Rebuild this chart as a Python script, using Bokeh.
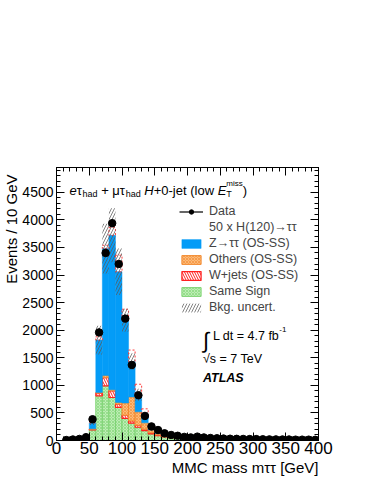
import numpy as np
from bokeh.plotting import figure
from bokeh.models import (Range1d, LinearAxis, FixedTicker, Label, Legend, LegendItem, Title)
from bokeh.embed import file_html
from bokeh.resources import INLINE

# ---------------- data ----------------
bin_lo = list(range(10, 400, 10))
data = [8, 18, 28, 60, 385, 1960, 3400, 3940, 3200, 2210, 1370, 820, 445, 255, 190,
        130, 100, 85, 65, 55, 70, 55, 45, 40, 35, 32, 30, 28, 26, 25, 22, 20, 20, 18, 18,
        15, 15, 15, 12]
same_sign = [4, 8, 12, 30, 190, 810, 990, 780, 600, 400, 315, 240, 180, 120, 90,
             65, 50, 40, 32, 27, 24, 21, 18, 16, 14, 13, 12, 11, 10, 9, 9, 8, 8, 7, 7,
             6, 6, 5, 5]
wjets = [0, 1, 2, 4, 15, 50, 150, 120, 60, 60, 40, 35, 25, 20, 12,
         10, 8, 6, 5, 4, 4, 3, 3, 3, 3, 2, 2, 2, 2, 2, 1, 2, 1, 1, 1, 1, 1, 1, 1]
others = [1, 1, 2, 4, 7, 10, 40, 20, 30, 220, 435, 245, 115, 50, 23,
          17, 14, 11, 9, 8, 6, 6, 5, 4, 4, 4, 3, 3, 3, 3, 3, 2, 2, 2, 2, 2, 1, 2, 1]
ztautau = [3, 5, 10, 20, 108, 950, 2300, 2800, 2370, 1500, 640, 310, 144, 45, 20,
           18, 13, 11, 9, 8, 7, 6, 5, 5, 4, 4, 4, 3, 3, 3, 3, 3, 3, 3, 2, 2, 2, 2, 2]
signal50 = [0, 0, 0, 0, 20, 60, 60, 140, 300, 200, 210, 190, 110, 50, 20,
            10, 5, 3, 2, 0, 0, 0, 0, 0, 0, 0, 0, 0, 0, 0, 0, 0, 0, 0, 0, 0, 0, 0, 0]
bkg_unc = [2, 3, 4, 8, 40, 260, 450, 490, 420, 210, 150, 110, 50, 30, 15,
           12, 10, 8, 7, 6, 5, 5, 4, 4, 4, 3, 3, 3, 3, 3, 2, 2, 2, 2, 2, 2, 2, 2, 2]
bin_width = 10

x_ticks = list(range(0, 401, 50))
x_minor = list(range(0, 401, 10))
y_ticks = list(range(0, 4501, 500))
y_minor = list(range(0, 4901, 100))

legend_labels = ["Data", "50 x H(120)\u2192\u03c4\u03c4", "Z\u2192\u03c4\u03c4 (OS-SS)",
                 "Others (OS-SS)", "W+jets (OS-SS)", "Same Sign", "Bkg. uncert."]
x_title = "MMC mass m\u03c4\u03c4 [GeV]"
y_title = "Events / 10 GeV"

# ---------------- layout ----------------
W, H = 372, 482
FL, FT = 55, 167
FR, FB = W - 318, H - 440
XMAX, YMAX = 400, 4950
FW, FH = W - FL - FR, H - FT - FB
FONT = "Liberation Sans"

def dx(px):  # page px -> data x
    return (px - FL) * XMAX / FW

def dy(py):  # page py -> data y
    return (H - FB - py) * YMAX / FH

p = figure(width=W, height=H, x_range=Range1d(0, XMAX), y_range=Range1d(0, YMAX),
           output_backend="svg", toolbar_location=None,
           min_border_left=FL, min_border_right=FR, min_border_top=FT, min_border_bottom=FB)
p.xgrid.visible = False
p.ygrid.visible = False
p.outline_line_color = "black"
p.background_fill_color = "white"
p.border_fill_color = "white"

def style_axis(ax, ticks, minor, labels=True, size="14px", tick_len=8):
    ax.ticker = FixedTicker(ticks=ticks, minor_ticks=minor)
    ax.major_tick_in = tick_len
    ax.major_tick_out = 0
    ax.minor_tick_in = tick_len // 2
    ax.minor_tick_out = 0
    ax.axis_line_color = "black"
    ax.major_tick_line_color = "black"
    ax.minor_tick_line_color = "black"
    ax.major_label_text_font = FONT
    ax.major_label_text_color = "black"
    if labels:
        ax.major_label_text_font_size = size
    else:
        ax.major_label_text_font_size = "0px"
        ax.major_label_text_alpha = 0

xa = p.xaxis[0]
style_axis(xa, x_ticks, x_minor, size="17px", tick_len=8)
xa.major_label_standoff = 1

ya = p.yaxis[0]
style_axis(ya, y_ticks, y_minor, size="14px", tick_len=8)
ya.major_label_standoff = 3

top_ax = LinearAxis()
style_axis(top_ax, x_ticks, x_minor, labels=False)
p.add_layout(top_ax, "above")
right_ax = LinearAxis()
style_axis(right_ax, y_ticks, y_minor, labels=False)
p.add_layout(right_ax, "right")

p.add_layout(Title(text=x_title, align="right", text_font=FONT, text_font_size="15px",
                   text_font_style="normal", text_color="black", standoff=0), "below")
p.add_layout(Title(text=y_title, align="right", text_font=FONT, text_font_size="15px",
                   text_font_style="normal", text_color="black", standoff=0,
                   offset=7), "left")

# ---------------- stack ----------------
lo = np.array(bin_lo, dtype=float)
hi = lo + bin_width
ctr = lo + bin_width / 2
t1 = np.array(same_sign, dtype=float)
t2 = t1 + np.array(wjets)
t3 = t2 + np.array(others)
t4 = t3 + np.array(ztautau)
sig = np.array(signal50, dtype=float)
unc = np.array(bkg_unc, dtype=float)
d = np.array(data, dtype=float)

r_ss = p.quad(left=lo, right=hi, bottom=0, top=t1, fill_color="#bdeeb4",
              line_color="#7fd374", line_width=1,
              hatch_pattern="diagonal_cross", hatch_color="#6ccc60", hatch_scale=3,
              hatch_weight=0.6, hatch_alpha=0.8)
r_w = p.quad(left=lo, right=hi, bottom=t1, top=t2, fill_color="white",
             line_color="#ff2020", line_width=1.2,
             hatch_pattern="left_diagonal_line", hatch_color="#ff2020", hatch_scale=5,
             hatch_weight=1)
r_o = p.quad(left=lo, right=hi, bottom=t2, top=t3, fill_color="#fdbb78",
             line_color="#f28a30", line_width=1,
             hatch_pattern="diagonal_cross", hatch_color="#f07d22", hatch_scale=3,
             hatch_weight=0.6, hatch_alpha=0.85)
r_z = p.quad(left=lo, right=hi, bottom=t3, top=t4, fill_color="#049cf7",
             line_color="#049cf7", line_width=0.5)

m = sig > 0
r_sig = p.quad(left=lo[m], right=hi[m], bottom=t4[m], top=(t4 + sig)[m],
               fill_color=None, line_color="#ff3b3b", line_width=1, line_dash="2 2")
r_sig_leg = p.line(x=[], y=[], line_color="#ff3b3b", line_width=1.2, line_dash="2 2")

r_unc = p.quad(left=lo, right=hi, bottom=t4 - unc, top=t4 + unc, fill_color=None,
               line_color=None, hatch_pattern="right_diagonal_line",
               hatch_color="#5a5a5a", hatch_alpha=0.75, hatch_scale=6, hatch_weight=1)

err = np.sqrt(d)
r_err = p.segment(x0=ctr, y0=d - err, x1=ctr, y1=d + err, line_color="black", line_width=1.2)
r_data = p.scatter(x=ctr, y=d, size=7.5, marker="circle", fill_color="black", line_color="black")

# ---------------- legend ----------------
items = [LegendItem(label=legend_labels[0], renderers=[r_err, r_data]),
         LegendItem(label=legend_labels[1], renderers=[r_sig_leg]),
         LegendItem(label=legend_labels[2], renderers=[r_z]),
         LegendItem(label=legend_labels[3], renderers=[r_o]),
         LegendItem(label=legend_labels[4], renderers=[r_w]),
         LegendItem(label=legend_labels[5], renderers=[r_ss]),
         LegendItem(label=legend_labels[6], renderers=[r_unc])]
leg = Legend(items=items, location=(123, 126), padding=0, margin=0, spacing=2,
             glyph_width=24, glyph_height=11, label_standoff=6, label_height=12,
             label_text_font=FONT, label_text_font_size="12.5px",
             background_fill_alpha=0, border_line_alpha=0)
p.add_layout(leg)

# ---------------- rich texts ----------------
CW = {' ': .278, '+': .584, '-': .333, '(': .333, ')': .333, '.': .278, '=': .584,
      '[': .278, ']': .278, '/': .278, 'a': .556, 'b': .556, 'c': .5, 'd': .556, 'e': .556,
      'f': .278, 'g': .556, 'h': .556, 'i': .222, 'j': .222, 'k': .5, 'l': .222, 'm': .833,
      'n': .556, 'o': .556, 'p': .556, 'r': .333, 's': .5, 't': .278, 'u': .556, 'v': .5,
      'w': .722, 'x': .5, 'y': .5, 'z': .5, 'A': .667, 'C': .722, 'E': .667, 'G': .778,
      'H': .722, 'L': .556, 'M': .833, 'S': .667, 'T': .611, 'V': .667, 'W': .944,
      'Z': .611, '\u03c4': .45, '\u03bc': .576, '\u2192': 1.0, '\u222b': .3, '\u221a': .55}

def tw(s, size):
    return sum(CW.get(c, .556) for c in s) * size

def rich(pieces, px, py):
    x = 0
    for pc in pieces:
        txt, size, style, off = pc[:4]
        adv = pc[4] if len(pc) > 4 else None
        lead = len(txt) - len(txt.lstrip())
        shown = txt.strip()
        if shown:
            p.add_layout(Label(x=dx(px), y=dy(py), x_offset=x + tw(" " * lead, size),
                               y_offset=off, text=shown,
                               text_font=FONT, text_font_size=f"{size}px",
                               text_font_style=style, text_color="black",
                               text_baseline="alphabetic", text_align="left"))
        x += tw(txt, size) if adv is None else adv

tau = "\u03c4"
rich([("e", 13, "italic", 0), (tau, 13, "normal", 0), ("had", 9, "normal", -3),
      (" + \u03bc" + tau, 13, "normal", 0), ("had", 9, "normal", -3),
      (" ", 13, "normal", 0), ("H", 13, "italic", 0), ("+0-jet (low ", 13, "normal", 0),
      ("E", 13, "italic", 0), ("T", 9, "normal", -3, 0), ("miss", 8, "normal", 7),
      (")", 13, "normal", 0)], 68, 190)

rich([("\u222b", 22, "normal", -4)], 202, 336)
rich([("L dt = 4.7 fb", 12.5, "normal", 0), ("-1", 8, "normal", 6)], 212, 335)
rich([("\u221as = 7 TeV", 12.5, "normal", 0)], 202, 358)
rich([("ATLAS", 12.5, "bold italic", 0)], 202, 377)

open("out.html", "w").write(file_html(p, INLINE))
